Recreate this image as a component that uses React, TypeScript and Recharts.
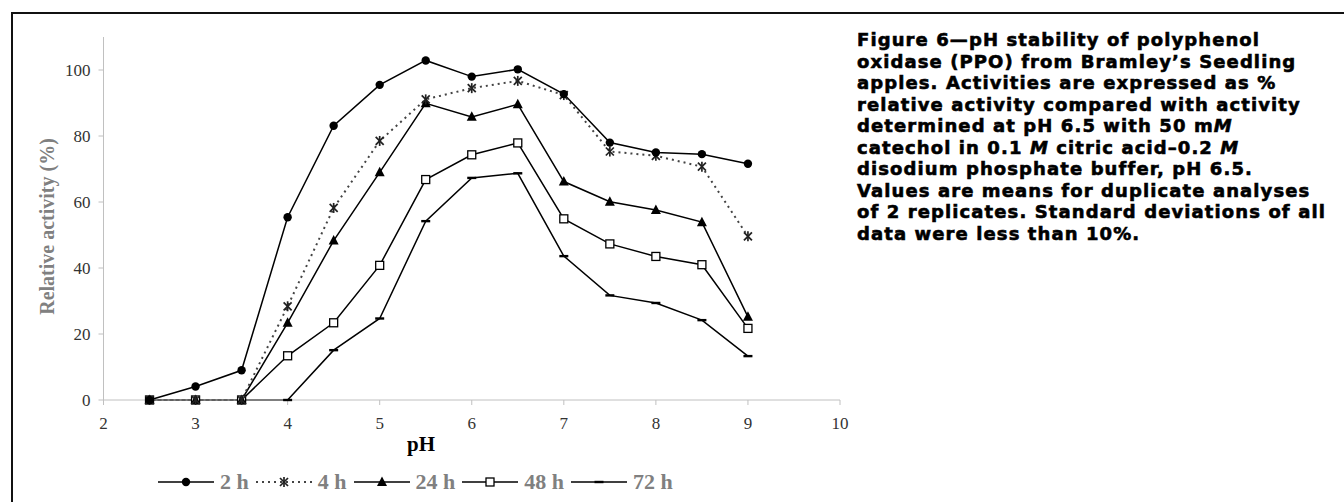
import { LineChart, Line, XAxis, YAxis, Legend } from "recharts";

const phValues = [2.5, 3, 3.5, 4, 4.5, 5, 5.5, 6, 6.5, 7, 7.5, 8, 8.5, 9];
const activity2h = [0, 4.1, 9.0, 55.4, 83.1, 95.5, 102.9, 98.0, 100.2, 92.7, 78.0, 75.0, 74.5, 71.6];
const activity4h = [0, 0, 0, 28.4, 58.2, 78.5, 91.1, 94.5, 96.7, 92.4, 75.3, 74.0, 70.7, 49.6];
const activity24h = [0, 0, 0, 23.4, 48.3, 69.0, 89.9, 85.8, 89.6, 66.2, 60.1, 57.6, 53.9, 25.2];
const activity48h = [0, 0, 0, 13.4, 23.4, 40.8, 66.8, 74.3, 77.9, 54.9, 47.3, 43.5, 41.0, 21.7];
const activity72h = [0, 0, 0, 0, 15.1, 24.7, 54.2, 67.3, 68.7, 43.6, 31.7, 29.4, 24.2, 13.3];

const xTicks = [2, 3, 4, 5, 6, 7, 8, 9, 10];
const yTicks = [0, 20, 40, 60, 80, 100];
const seriesNames = ["2 h", "4 h", "24 h", "48 h", "72 h"];

const captionLines = [
  "Figure 6\u2014pH stability of polyphenol",
  "oxidase (PPO) from Bramley\u2019s Seedling",
  "apples. Activities are expressed as %",
  "relative activity compared with activity",
  ["determined at pH 6.5 with 50 m", "M", ""],
  ["catechol in 0.1 ", "M", " citric acid\u20130.2 ", "M"],
  "disodium phosphate buffer, pH 6.5.",
  "Values are means for duplicate analyses",
  "of 2 replicates. Standard deviations of all",
  "data were less than 10%.",
];

const data = phValues.map((ph, i) => ({
  ph,
  h2: activity2h[i],
  h4: activity4h[i],
  h24: activity24h[i],
  h48: activity48h[i],
  h72: activity72h[i],
}));

const serif = "'Liberation Serif', 'Times New Roman', serif";

type Marker = "circle" | "star" | "triangle" | "square" | "dash";

function markerShape(kind: Marker, cx: number, cy: number, key?: string) {
  if (kind === "circle") return <circle key={key} cx={cx} cy={cy} r={4.2} fill="#000" />;
  if (kind === "triangle")
    return (
      <polygon
        key={key}
        points={`${cx},${cy - 5.5} ${cx + 5},${cy + 4} ${cx - 5},${cy + 4}`}
        fill="#000"
      />
    );
  if (kind === "square")
    return (
      <rect key={key} x={cx - 4} y={cy - 4} width={8} height={8} fill="#fff" stroke="#000" strokeWidth={1.3} />
    );
  if (kind === "dash")
    return <rect key={key} x={cx - 4.5} y={cy - 1.2} width={9} height={2.4} fill="#000" />;
  return (
    <g key={key} stroke="#222" strokeWidth={1.7}>
      <line x1={cx - 4} y1={cy - 4} x2={cx + 4} y2={cy + 4} />
      <line x1={cx - 4} y1={cy + 4} x2={cx + 4} y2={cy - 4} />
      <line x1={cx} y1={cy - 5} x2={cx} y2={cy + 5} />
    </g>
  );
}

const dotFor = (kind: Marker) => (props: any) =>
  markerShape(kind, props.cx, props.cy, `${kind}-${props.index}`);

const legendItems: { name: string; kind: Marker; dashed: boolean }[] = [
  { name: seriesNames[0], kind: "circle", dashed: false },
  { name: seriesNames[1], kind: "star", dashed: true },
  { name: seriesNames[2], kind: "triangle", dashed: false },
  { name: seriesNames[3], kind: "square", dashed: false },
  { name: seriesNames[4], kind: "dash", dashed: false },
];

function LegendRow() {
  return (
    <div style={{ display: "flex", alignItems: "center" }}>
      {legendItems.map((it) => (
        <div key={it.name} style={{ display: "flex", alignItems: "center", marginRight: 7 }}>
          <svg width={56} height={20}>
            <line
              x1={0}
              y1={10}
              x2={56}
              y2={10}
              stroke={it.dashed ? "#444" : "#000"}
              strokeWidth={it.dashed ? 2 : 1.5}
              strokeDasharray={it.dashed ? "2 4" : undefined}
            />
            {markerShape(it.kind, 28, 10)}
          </svg>
          <span
            style={{
              fontFamily: serif,
              fontWeight: "bold",
              fontSize: 22,
              color: "#808080",
              marginLeft: 6,
            }}
          >
            {it.name}
          </span>
        </div>
      ))}
    </div>
  );
}

export default function App() {
  return (
    <div style={{ position: "absolute", left: 0, top: 0, width: 1344, height: 502, background: "#fff" }}>
      <div
        style={{
          position: "absolute",
          left: 11,
          top: 12,
          width: 1333,
          height: 490,
          borderLeft: "2px solid #111",
          borderTop: "2px solid #111",
        }}
      />
      <LineChart
        width={900}
        height={502}
        data={data}
        margin={{ top: 37, right: 60, bottom: 72, left: 43.5 }}
        style={{ position: "absolute", left: 0, top: 0 }}
      >
        <XAxis
          dataKey="ph"
          type="number"
          domain={[2, 10]}
          ticks={xTicks}
          height={30}
          stroke="#c0c0c0"
          tickSize={5}
          tickMargin={12}
          tick={{ fill: "#333", fontFamily: serif, fontSize: 17 }}
        />
        <YAxis
          type="number"
          domain={[0, 110]}
          ticks={yTicks}
          width={60}
          stroke="#c0c0c0"
          tickSize={5}
          tickMargin={8}
          tick={{ fill: "#333", fontFamily: serif, fontSize: 17 }}
        />
        <Legend
          layout="horizontal"
          verticalAlign="middle"
          align="center"
          wrapperStyle={{ left: 158, top: 469, width: 600, height: 24 }}
          content={() => <LegendRow />}
        />
        <Line dataKey="h72" name={seriesNames[4]} stroke="#000" strokeWidth={1.5} dot={dotFor("dash")} isAnimationActive={false} />
        <Line dataKey="h48" name={seriesNames[3]} stroke="#000" strokeWidth={1.5} dot={dotFor("square")} isAnimationActive={false} />
        <Line dataKey="h24" name={seriesNames[2]} stroke="#000" strokeWidth={1.5} dot={dotFor("triangle")} isAnimationActive={false} />
        <Line
          dataKey="h4"
          name={seriesNames[1]}
          stroke="#444"
          strokeWidth={2}
          strokeDasharray="2 4"
          dot={dotFor("star")}
          isAnimationActive={false}
        />
        <Line dataKey="h2" name={seriesNames[0]} stroke="#000" strokeWidth={1.5} dot={dotFor("circle")} isAnimationActive={false} />
      </LineChart>
      <div
        style={{
          position: "absolute",
          left: 30,
          top: 226,
          width: 34,
          height: 0,
          display: "flex",
          justifyContent: "center",
          alignItems: "center",
        }}
      >
        <div
          style={{
            transform: "rotate(-90deg)",
            whiteSpace: "nowrap",
            fontFamily: serif,
            fontWeight: "bold",
            fontSize: 20,
            color: "#808080",
          }}
        >
          Relative activity (%)
        </div>
      </div>
      <div
        style={{
          position: "absolute",
          left: 381,
          top: 432,
          width: 80,
          textAlign: "center",
          fontFamily: serif,
          fontWeight: "bold",
          fontSize: 21,
          color: "#000",
        }}
      >
        pH
      </div>
      <div
        style={{
          position: "absolute",
          left: 857,
          top: 29,
          fontFamily: "'DejaVu Sans', sans-serif",
          fontWeight: "bold",
          fontSize: 18,
          lineHeight: "21.5px",
          letterSpacing: 1.1,
          color: "#000",
          whiteSpace: "nowrap",
          WebkitTextStroke: "0.6px #000",
        }}
      >
        {captionLines.map((line, i) => (
          <div key={i}>
            {Array.isArray(line)
              ? line.map((part, j) => (j % 2 === 1 ? <i key={j}>{part}</i> : <span key={j}>{part}</span>))
              : line}
          </div>
        ))}
      </div>
    </div>
  );
}
